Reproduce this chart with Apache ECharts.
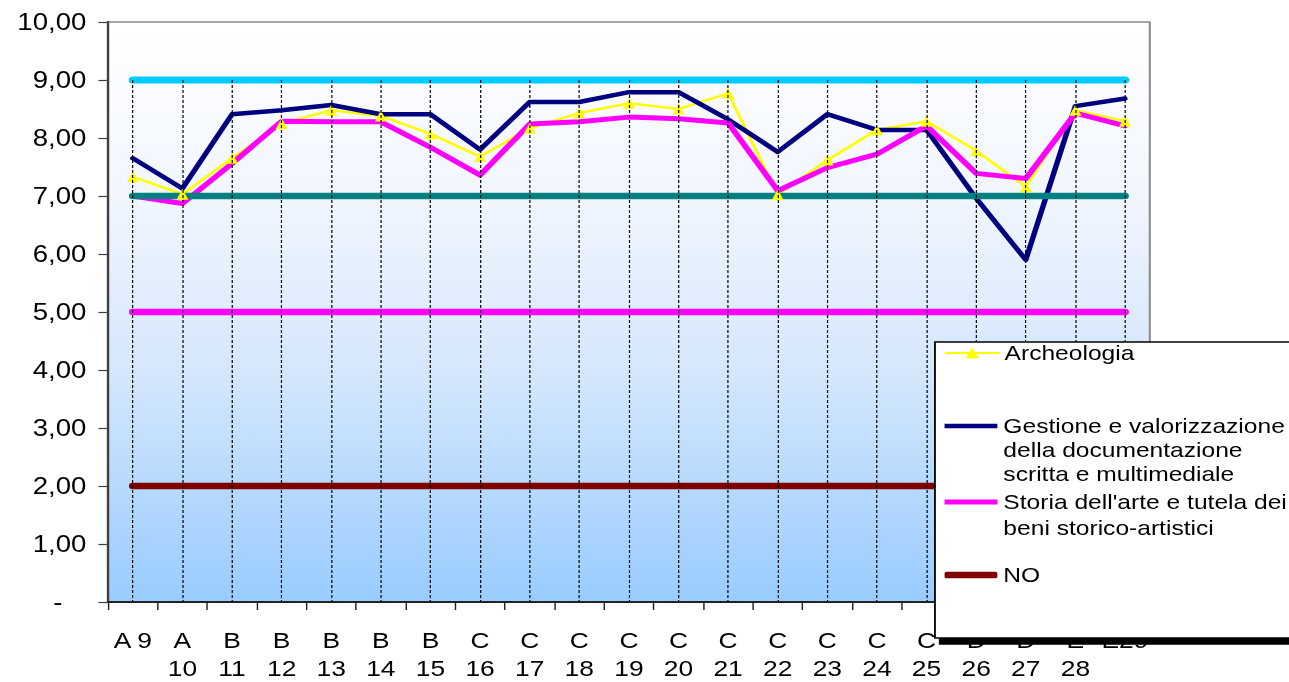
<!DOCTYPE html>
<html>
<head>
<meta charset="utf-8">
<script src="https://cdn.jsdelivr.net/npm/echarts@6/dist/echarts.min.js"></script>
<style>
  html, body { margin: 0; padding: 0; background: #ffffff; overflow: hidden; }
  #chart {
    width: 1074px;
    height: 682px;
    transform: scaleX(1.2002);
    transform-origin: 0 0;
  }
</style>
</head>
<body>
<div id="chart"></div>
<script>
// Corsi di laurea (categorie dell'asse x)
const categories = ['A 9', 'A\n10', 'B\n11', 'B\n12', 'B\n13', 'B\n14', 'B\n15',
  'C\n16', 'C\n17', 'C\n18', 'C\n19', 'C\n20', 'C\n21', 'C\n22', 'C\n23', 'C\n24',
  'C\n25', 'D\n26', 'D\n27', 'E\n28', 'E29'];

// Valutazioni medie per indirizzo
const archeologia = [7.33, 7.03, 7.65, 8.25, 8.48, 8.38, 8.07, 7.68, 8.17, 8.43, 8.60,
  8.50, 8.77, 7.02, 7.62, 8.14, 8.29, 7.78, 7.16, 8.48, 8.29];
const gestione = [7.65, 7.13, 8.41, 8.48, 8.57, 8.41, 8.41, 7.80, 8.62, 8.62, 8.79,
  8.79, 8.32, 7.76, 8.41, 8.14, 8.14, 6.96, 5.90, 8.55, 8.68];
const storiaArte = [7.00, 6.87, 7.56, 8.29, 8.28, 8.28, 7.84, 7.36, 8.24, 8.28, 8.36,
  8.33, 8.26, 7.09, 7.49, 7.72, 8.21, 7.39, 7.30, 8.43, 8.21];

// Linee di riferimento
const rifNO = [2, 2, 2, 2, 2, 2, 2, 2, 2, 2, 2, 2, 2, 2, 2, 2, 2, 2, 2, 2, 2];
const rif9 = [9, 9, 9, 9, 9, 9, 9, 9, 9, 9, 9, 9, 9, 9, 9, 9, 9, 9, 9, 9, 9];
const rif7 = [7, 7, 7, 7, 7, 7, 7, 7, 7, 7, 7, 7, 7, 7, 7, 7, 7, 7, 7, 7, 7];
const rif5 = [5, 5, 5, 5, 5, 5, 5, 5, 5, 5, 5, 5, 5, 5, 5, 5, 5, 5, 5, 5, 5];

// Etichette dell'asse y
const yTicks = [0, 1, 2, 3, 4, 5, 6, 7, 8, 9, 10];

const nameArch = 'Archeologia';
const nameGest = 'Gestione e valorizzazione della documentazione scritta e multimediale';
const nameStoria = "Storia dell'arte e tutela dei beni storico-artistici";
const nameNO = 'NO';

// Testo della legenda: le righe vuote iniziali tengono la prima riga allineata al simbolo
const legendText = {};
legendText[nameArch] = 'Archeologia';
legendText[nameGest] = '\n\nGestione e valorizzazione\ndella documentazione\nscritta e multimediale';
legendText[nameStoria] = "\nStoria dell'arte e tutela dei\nbeni storico-artistici";
legendText[nameNO] = 'NO';

const FONT = '"Liberation Sans", Arial, sans-serif';

// Linee verticali tratteggiate dal valore più alto fino all'asse
const allSeries = [archeologia, gestione, storiaArte, rifNO, rif9, rif7, rif5];
const tops = categories.map((c, i) => Math.max.apply(null, allSeries.map(s => s[i])));

function lineSeries(name, data, color, width, extra) {
  return Object.assign({
    name: name,
    type: 'line',
    data: data,
    symbol: 'none',
    color: color,
    lineStyle: { color: color, width: width, cap: 'round', join: 'round' },
    silent: true,
    z: 2
  }, extra || {});
}

function legendBlock(name, top, icon, iconHeight, lineHeight) {
  const block = {
    data: [name],
    orient: 'vertical',
    left: 787,
    top: top,
    padding: 0,
    itemWidth: 44,
    itemHeight: iconHeight,
    selectedMode: false,
    z: 10,
    formatter: n => legendText[n],
    textStyle: {
      fontFamily: FONT,
      fontSize: 20.5,
      lineHeight: lineHeight,
      color: '#000000'
    }
  };
  if (icon) block.icon = icon;
  return block;
}

const chart = echarts.init(document.getElementById('chart'), null, { renderer: 'svg' });

chart.setOption({
  animation: false,
  backgroundColor: '#ffffff',
  textStyle: { fontFamily: FONT },
  grid: {
    left: 90,
    right: 116,
    top: 22,
    bottom: 80,
    show: true,
    borderColor: '#8a8a8a',
    borderWidth: 1.7,
    backgroundColor: {
      type: 'linear', x: 0, y: 0, x2: 0, y2: 1,
      colorStops: [
        { offset: 0, color: '#ffffff' },
        { offset: 0.3, color: '#f1f6fe' },
        { offset: 0.6, color: '#d5e7fc' },
        { offset: 1, color: '#99ccff' }
      ]
    }
  },
  xAxis: {
    type: 'category',
    data: categories,
    boundaryGap: true,
    axisLine: { lineStyle: { color: '#222222', width: 2 } },
    axisTick: { show: true, length: 8, lineStyle: { color: '#222222', width: 1.2 } },
    axisLabel: {
      interval: 0,
      margin: 24,
      fontFamily: FONT,
      fontSize: 22,
      lineHeight: 28,
      color: '#000000'
    },
    splitLine: { show: false }
  },
  yAxis: {
    type: 'value',
    min: yTicks[0],
    max: yTicks[yTicks.length - 1],
    interval: 1,
    axisLine: { show: true, lineStyle: { color: '#404040', width: 2 } },
    axisTick: { show: true, length: 8, lineStyle: { color: '#404040', width: 1.2 } },
    axisLabel: {
      margin: 18,
      fontFamily: FONT,
      fontSize: 23,
      color: '#000000',
      formatter: v => v === 0 ? '{d|-}' : v.toFixed(2).replace('.', ','),
      rich: { d: { fontFamily: FONT, fontSize: 23, color: '#000000', padding: [0, 20, 0, 0] } }
    },
    splitLine: { show: false }
  },
  legend: [
    legendBlock(nameArch, 338.5, null, 14, 29),
    legendBlock(nameGest, 366, 'rect', 4.5, 24),
    legendBlock(nameStoria, 463, 'rect', 5, 26),
    legendBlock(nameNO, 560.5, 'roundRect', 6.5, 29)
  ],
  graphic: [{
    type: 'rect',
    z: 6,
    silent: true,
    shape: { x: 779, y: 342, width: 320, height: 296 },
    style: {
      fill: '#ffffff',
      stroke: '#000000',
      lineWidth: 1.5,
      shadowColor: '#000000',
      shadowBlur: 0,
      shadowOffsetX: 4,
      shadowOffsetY: 6
    }
  }],
  series: [
    lineSeries(nameArch, archeologia, '#ffff00', 2.5, {
      symbol: 'triangle',
      symbolSize: [10, 11],
      showSymbol: true,
      itemStyle: { color: '#ffff00', borderWidth: 0 }
    }),
    lineSeries(nameGest, gestione, '#000080', 4.5),
    lineSeries(nameStoria, storiaArte, '#ff00ff', 5),
    lineSeries(nameNO, rifNO, '#800000', 6.5),
    lineSeries('Soglia 9', rif9, '#00ccff', 7),
    lineSeries('Soglia 7', rif7, '#008080', 6.5),
    lineSeries('Soglia 5', rif5, '#ff00ff', 6.5),
    {
      name: 'guide',
      type: 'line',
      data: tops,
      symbol: 'none',
      silent: true,
      z: 4,
      lineStyle: { width: 0, opacity: 0 },
      markLine: {
        silent: true,
        symbol: ['none', 'none'],
        label: { show: false },
        lineStyle: { color: '#000000', type: [3, 2], width: 1 },
        emphasis: { disabled: true },
        data: categories.map((c, i) => [{ coord: [i, tops[i]] }, { coord: [i, 0] }])
      }
    }
  ]
});
</script>
</body>
</html>
